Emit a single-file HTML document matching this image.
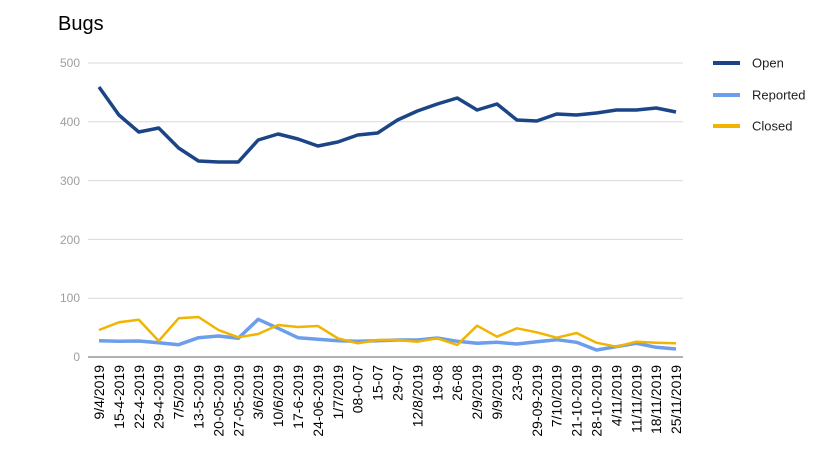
<!DOCTYPE html>
<html><head><style>body{margin:0;background:#fff}svg{display:block;font-family:"Liberation Sans",Arial,sans-serif}</style></head>
<body>
<svg width="816" height="458" viewBox="0 0 816 458">
<text x="58" y="30" font-size="20" fill="#000">Bugs</text>
<g stroke="#d9d9d9" stroke-width="1">
<line x1="88" y1="63" x2="683" y2="63"/><line x1="88" y1="121.8" x2="683" y2="121.8"/><line x1="88" y1="180.6" x2="683" y2="180.6"/><line x1="88" y1="239.4" x2="683" y2="239.4"/><line x1="88" y1="298.2" x2="683" y2="298.2"/>
</g>
<line x1="88" y1="357" x2="683" y2="357" stroke="#999" stroke-width="1.5"/>
<g font-size="12" fill="#9e9e9e" text-anchor="end">
<text x="80" y="67">500</text><text x="80" y="126">400</text><text x="80" y="185">300</text><text x="80" y="244">200</text><text x="80" y="302">100</text><text x="80" y="361">0</text>
</g>
<polyline fill="none" stroke="#6d9eeb" stroke-width="3.5" stroke-linejoin="round" points="99,340.7 118.9,341.3 138.8,341 158.7,342.7 178.6,344.7 198.5,337.7 218.4,336 238.3,338.3 258.2,319.3 278.1,328.3 298,337.7 317.9,339.3 337.8,340.7 357.7,341.3 377.6,340.7 397.5,340 417.4,340 437.3,338 457.2,341.3 477.1,343.3 497,342.3 516.9,344 536.8,341.7 556.7,339.7 576.6,342.3 596.5,350 616.4,346.7 636.3,343.3 656.2,347.3 676,349"/>
<polyline fill="none" stroke="#f1b400" stroke-width="2.5" stroke-linejoin="round" points="99,330 118.9,322.3 138.8,319.7 158.7,341 178.6,318.3 198.5,317 218.4,330 238.3,337.3 258.2,334 278.1,325 298,327 317.9,326 337.8,338.3 357.7,343.3 377.6,340 397.5,340 417.4,341.7 437.3,338.3 457.2,345 477.1,325.7 497,336.7 516.9,328.3 536.8,332.3 556.7,337.7 576.6,333 596.5,342.7 616.4,346.7 636.3,341.7 656.2,342.7 676,343.3"/>
<polyline fill="none" stroke="#1c4587" stroke-width="3.5" stroke-linejoin="round" points="99,87 118.9,115 138.8,132 158.7,128 178.6,148 198.5,161 218.4,162 238.3,162 258.2,140 278.1,134 298,139 317.9,146 337.8,142 357.7,135 377.6,133 397.5,120 417.4,111 437.3,104 457.2,98 477.1,110 497,104 516.9,120 536.8,121 556.7,114 576.6,115 596.5,113 616.4,110 636.3,110 656.2,108 676,112"/>
<g font-size="14" fill="#000" text-anchor="end">
<text transform="translate(104,365) rotate(-90)">9/4/2019</text>
<text transform="translate(123.9,365) rotate(-90)">15-4-2019</text>
<text transform="translate(143.8,365) rotate(-90)">22-4-2019</text>
<text transform="translate(163.7,365) rotate(-90)">29-4-2019</text>
<text transform="translate(183.6,365) rotate(-90)">7/5/2019</text>
<text transform="translate(203.5,365) rotate(-90)">13-5-2019</text>
<text transform="translate(223.4,365) rotate(-90)">20-05-2019</text>
<text transform="translate(243.3,365) rotate(-90)">27-05-2019</text>
<text transform="translate(263.2,365) rotate(-90)">3/6/2019</text>
<text transform="translate(283.1,365) rotate(-90)">10/6/2019</text>
<text transform="translate(303,365) rotate(-90)">17-6-2019</text>
<text transform="translate(322.9,365) rotate(-90)">24-06-2019</text>
<text transform="translate(342.8,365) rotate(-90)">1/7/2019</text>
<text transform="translate(362.7,365) rotate(-90)">08-0-07</text>
<text transform="translate(382.6,365) rotate(-90)">15-07</text>
<text transform="translate(402.5,365) rotate(-90)">29-07</text>
<text transform="translate(422.4,365) rotate(-90)">12/8/2019</text>
<text transform="translate(442.3,365) rotate(-90)">19-08</text>
<text transform="translate(462.2,365) rotate(-90)">26-08</text>
<text transform="translate(482.1,365) rotate(-90)">2/9/2019</text>
<text transform="translate(502,365) rotate(-90)">9/9/2019</text>
<text transform="translate(521.9,365) rotate(-90)">23-09</text>
<text transform="translate(541.8,365) rotate(-90)">29-09-2019</text>
<text transform="translate(561.7,365) rotate(-90)">7/10/2019</text>
<text transform="translate(581.6,365) rotate(-90)">21-10-2019</text>
<text transform="translate(601.5,365) rotate(-90)">28-10-2019</text>
<text transform="translate(621.4,365) rotate(-90)">4/11/2019</text>
<text transform="translate(641.3,365) rotate(-90)">11/11/2019</text>
<text transform="translate(661.2,365) rotate(-90)">18/11/2019</text>
<text transform="translate(681,365) rotate(-90)">25/11/2019</text>
</g>
<g stroke-width="4">
<line x1="713" y1="63" x2="740" y2="63" stroke="#1c4587"/>
<line x1="713" y1="95" x2="740" y2="95" stroke="#6d9eeb"/>
<line x1="713" y1="126" x2="740" y2="126" stroke="#f1b400"/>
</g>
<g font-size="13" fill="#222">
<text x="752" y="67.5">Open</text><text x="752" y="99.5">Reported</text><text x="752" y="130.5">Closed</text>
</g>
</svg>
</body></html>
